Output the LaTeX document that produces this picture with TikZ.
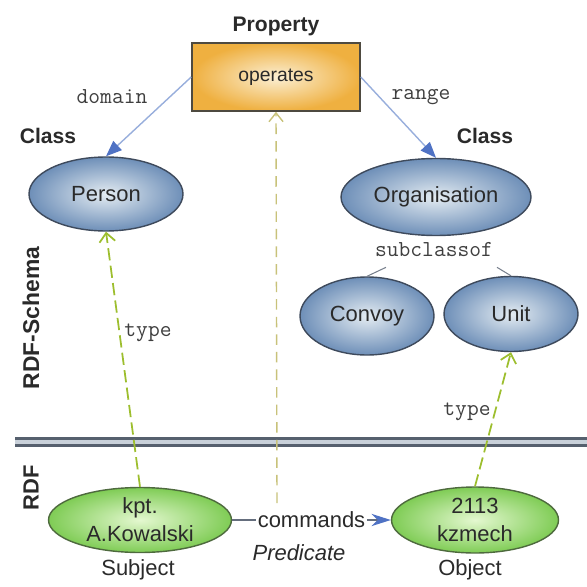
\documentclass[tikz,border=0pt]{standalone}
\usepackage{fontspec}
\setmainfont{Liberation Sans}
\usetikzlibrary{shapes.geometric,arrows.meta,positioning,calc}
\definecolor{clsborda}{HTML}{3E4A5C}
\definecolor{clsdentro}{HTML}{E4ECF2}
\definecolor{clsfora}{HTML}{6E8FB8}
\definecolor{recborda}{HTML}{4E6A3E}
\definecolor{recdentro}{HTML}{E4F8D0}
\definecolor{recfora}{HTML}{7FCC55}
\definecolor{propborda}{HTML}{4E4A40}
\definecolor{propdentro}{HTML}{FBEFD4}
\definecolor{propfora}{HTML}{EFB040}
\definecolor{tipoverde}{HTML}{9DBE2E}
\definecolor{predcor}{HTML}{C8C27A}
\definecolor{setaazul}{HTML}{4F72C4}
\definecolor{linhaazul}{HTML}{98AEDC}
\definecolor{texto}{HTML}{2A2A2A}
\definecolor{divisoria}{HTML}{56606E}
\definecolor{divisoriameio}{HTML}{C9D1DA}

\begin{document}
\begin{tikzpicture}[x=0.02cm, y=-0.02cm,
    every node/.style={text=texto},
    classe/.style={ellipse, draw=clsborda, line width=0.8pt, inner color=clsdentro,
        outer color=clsfora, inner sep=0pt, font=\fontsize{12.5}{14}\selectfont},
    recurso/.style={ellipse, draw=recborda, line width=0.8pt, inner color=recdentro,
        outer color=recfora, inner sep=-2pt, align=center, font=\fontsize{12.5}{16}\selectfont},
    rotulo/.style={font=\bfseries\fontsize{12}{14}\selectfont},
    codigo/.style={font=\ttfamily\fontsize{13}{15}\selectfont, text=texto!90},
    texto12/.style={font=\fontsize{12.5}{14}\selectfont},
    seta/.style={draw=linhaazul, line width=0.8pt, -{Triangle[length=9pt,width=7pt,color=setaazul]}},
    tipo/.style={draw=tipoverde, line width=1pt, dash pattern=on 7pt off 3pt,
        -{Straight Barb[length=5pt,width=9pt]}},
    pred/.style={draw=predcor, line width=0.8pt, dash pattern=on 6pt off 4pt,
        -{Straight Barb[length=5pt,width=8pt]}},
    subl/.style={draw=clsborda!70, line width=0.6pt}]
    \useasboundingbox (0,0) rectangle (587,587);
    % Propriedade
    \node[draw=propborda, line width=0.9pt, inner color=propdentro, outer color=propfora,
        minimum width=3.36cm, minimum height=1.36cm, font=\fontsize{11}{13}\selectfont]
        (prop) at (276,77) {operates};
    \node[rotulo, above=0pt of prop] (lblprop) {Property};
    % Classes
    \node[classe, minimum width=3.08cm, minimum height=1.48cm] (person) at (106,194) {Person};
    \node[classe, minimum width=3.8cm, minimum height=1.54cm] (org) at (436,197) {Organisation};
    \node[classe, minimum width=2.68cm, minimum height=1.56cm] (convoy) at (367,316) {Convoy};
    \node[classe, minimum width=2.68cm, minimum height=1.5cm] (unit) at (511,314) {Unit};
    \node[rotulo] (lblclasse1) at (48,136) {Class};
    \node[rotulo] (lblclasse2) at (485,136) {Class};
    % Recursos
    \node[recurso, minimum width=3.66cm, minimum height=1.3cm] (subj) at (140,520) {kpt.\\A.Kowalski};
    \node[recurso, minimum width=3.34cm, minimum height=1.32cm] (obj) at (475,520) {2113\\kzmech};
    \node[texto12] (lblsubj) at (138,570) {Subject};
    \node[texto12] (lblobj) at (470,570) {Object};
    % Camadas
    \draw[divisoria, line width=1.4pt, double=divisoriameio, double distance=2.8pt] (15,442) -- (587,442);
    \node[rotulo, rotate=90, font=\bfseries\fontsize{13}{15}\selectfont] (lblschema) at (31,318) {RDF-Schema};
    \node[rotulo, rotate=90, font=\bfseries\fontsize{12.5}{15}\selectfont] (lblrdf) at (31,488) {RDF};
    % domain e range
    \draw[seta] (prop.west) -- (person.north);
    \draw[seta] (prop.east) -- (org.north);
    \node[codigo] (lbldomain) at (112,97) {domain};
    \node[codigo] (lblrange) at (421,97) {range};
    % subclassof
    \node[codigo] (sub) at (434,250) {subclassof};
    \draw[subl] ($(sub.south)+(-48,4)$) -- (convoy.north);
    \draw[subl] ($(sub.south)+(63,4)$) -- (unit.north);
    % type
    \draw[tipo] (subj.north) -- (person.south);
    \draw[tipo] (obj.north) -- (unit.south);
    \node[codigo] (lbltipo1) at (148,333) {type};
    \node[codigo] (lbltipo2) at (467,412) {type};
    % Predicado
    \draw[draw=clsborda!80, line width=0.7pt, -{Stealth[length=11pt,width=7pt,color=setaazul]}]
        (subj.east) -- node[fill=white, inner sep=1pt, texto12] (lblcmd) {commands} (obj.west);
    \coordinate (predbase) at (277,503);
    \draw[pred] (predbase) -- (prop.south);
    \node[texto12, font=\itshape\fontsize{12.5}{14}\selectfont] (lblpred) at (299,553) {Predicate};
\end{tikzpicture}
\end{document}
